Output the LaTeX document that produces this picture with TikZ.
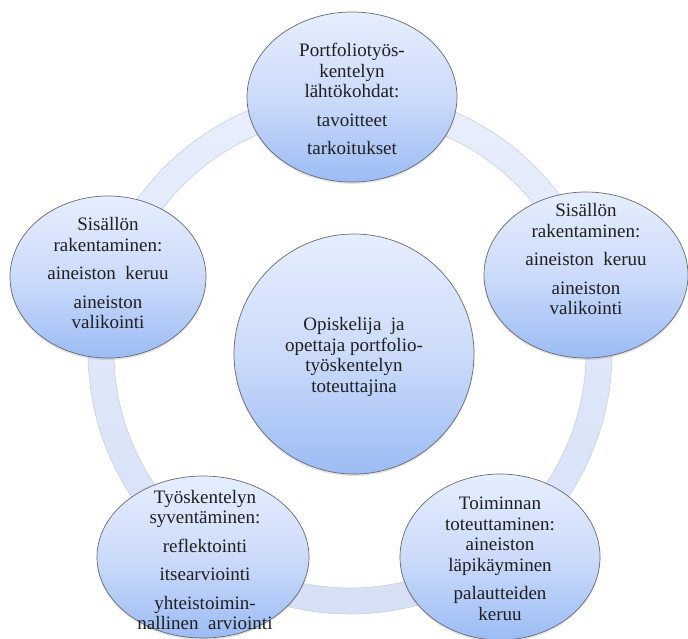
\documentclass[tikz,border=0pt]{standalone}
\usepackage{fontspec}
\setmainfont{Liberation Serif}
\usetikzlibrary{shapes.geometric,shadows}
\definecolor{ringtop}{RGB}{232,238,252}
\definecolor{ringbot}{RGB}{214,224,246}
\definecolor{ringedge}{RGB}{196,204,222}
\definecolor{bubtop}{RGB}{230,238,253}
\definecolor{bubmid}{RGB}{204,219,250}
\definecolor{bubbot}{RGB}{156,188,244}
\definecolor{bubedge}{RGB}{105,105,112}
\begin{document}
\begin{tikzpicture}[x=1pt,y=-1pt,
  bubble/.style={ellipse, draw=bubedge, line width=0.7pt,
    top color=bubtop, bottom color=bubbot, middle color=bubmid, inner sep=0pt,
    drop shadow={shadow xshift=0pt,shadow yshift=-2pt,opacity=0.22}},
  btext/.style={align=center, font=\fontsize{19}{20.5}\selectfont, text=black!88, inner sep=0pt}]
\useasboundingbox (0,0) rectangle (688,638);
\fill[white] (0,0) rectangle (688,638);
\coordinate (c) at (350,352);
% ring
\path[even odd rule, top color=ringtop, bottom color=ringbot]
  (c) circle[radius=262] (c) circle[radius=236];
\draw[ringedge, line width=0.5pt] (c) circle[radius=262] (c) circle[radius=236];
% bubbles
\node[bubble, minimum width=210pt, minimum height=170pt] (top) at (352,97) {};
\node[bubble, minimum width=196pt, minimum height=162pt] (left) at (108,277) {};
\node[bubble, minimum width=204pt, minimum height=166pt] (right) at (586,275) {};
\node[bubble, minimum width=212pt, minimum height=162pt] (bl) at (203,557) {};
\node[bubble, minimum width=200pt, minimum height=166pt] (br) at (500,557) {};
\node[bubble, minimum width=240pt, minimum height=240pt] (mid) at (354,354) {};
% texts
\node[btext] (toptext) at (352,99) {Portfoliotyös-\\kentelyn\\lähtökohdat:\\[8pt]tavoitteet\\[8pt]tarkoitukset};
\node[btext] (lefttext) at (108,273) {Sisällön\\rakentaminen:\\[8pt]aineiston\hspace{0.5em}keruu\\[8pt]aineiston\\valikointi};
\node[btext] (righttext) at (586,259) {Sisällön\\rakentaminen:\\[8pt]aineiston\hspace{0.5em}keruu\\[8pt]aineiston\\valikointi};
\node[btext] (midtext) at (354,357) {Opiskelija\hspace{0.5em}ja\\opettaja portfolio-\\työskentelyn\\toteuttajina};
\node[btext] (bltext) at (205,560) {Työskentelyn\\syventäminen:\\[8pt]reflektointi\\[8pt]itsearviointi\\[8pt]yhteistoimin-\\nallinen\hspace{0.5em}arviointi};
\node[btext] (brtext) at (500,559) {Toiminnan\\toteuttaminen:\\aineiston\\läpikäyminen\\[8pt]palautteiden\\keruu};
\end{tikzpicture}
\end{document}
